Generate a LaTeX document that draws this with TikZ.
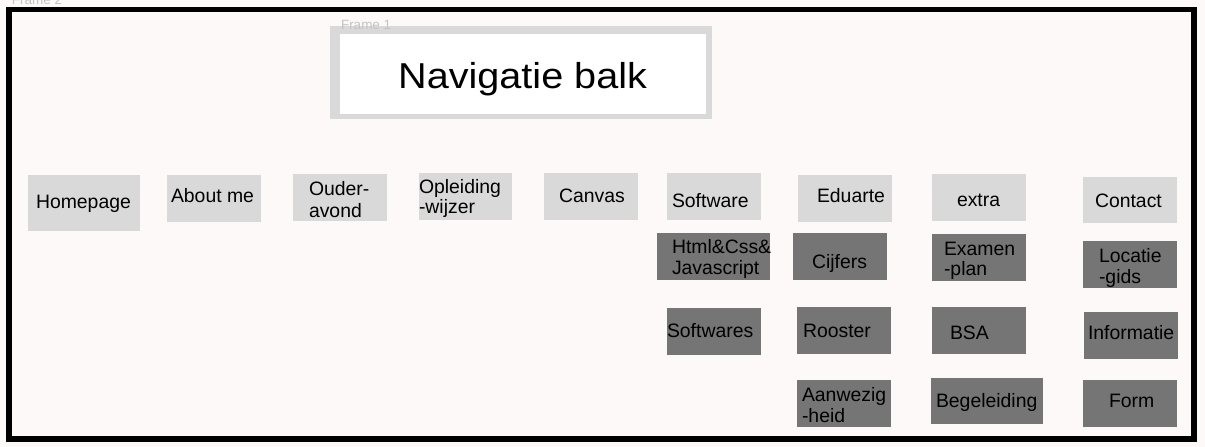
\documentclass[tikz,border=0pt]{standalone}
\usepackage{fontspec}
\setmainfont{Liberation Sans}
\definecolor{bgc}{HTML}{FDF9F8}
\definecolor{lightbox}{HTML}{D9D9D9}
\definecolor{darkbox}{HTML}{757575}
\definecolor{framelbl}{HTML}{C4C4C4}
\tikzset{
  lbox/.style={draw=none, fill=lightbox, inner sep=0pt, outer sep=0pt, minimum width=94pt, minimum height=47pt},
  dbox/.style={draw=none, fill=darkbox, inner sep=0pt, outer sep=0pt, minimum width=94pt, minimum height=47pt},
  txt/.style={inner sep=0pt, outer sep=0pt, anchor=base west, font=\fontsize{19.4}{21}\selectfont, text=black},
  flbl/.style={inner sep=0pt, outer sep=0pt, anchor=base west, font=\fontsize{13.5}{15}\selectfont, text=framelbl},
}
\begin{document}
\begin{tikzpicture}[x=1pt,y=-1pt]
\useasboundingbox (0,0) rectangle (1205,447);
\fill[bgc] (0,0) rectangle (1205,447);
% outer frame
\draw[black, line width=5.6pt] (9,9.6) rectangle (1194,439.2);
\node[flbl] (f2lbl) at (12,5) {Frame 2};
% frame 1 / navigation bar
\node[fill=lightbox, inner sep=0pt, outer sep=0pt, minimum width=382pt, minimum height=93pt] (navouter) at (521,72.5) {};
\node[fill=white, inner sep=0pt, outer sep=0pt, minimum width=366pt, minimum height=80pt] (navinner) at (523,74) {};
\node[flbl] (f1lbl) at (341,29) {Frame 1};
\node[inner sep=0pt, anchor=base west, font=\fontsize{36}{40}\selectfont, xscale=1.1] (navtxt) at (398,88) {Navigatie balk};
% top row
\node[lbox, minimum width=112pt, minimum height=56pt] (homepage) at (84,203) {};
\node[txt] (homepage-t) at (36,208) {Homepage};
\node[lbox] (aboutme) at (214,198.5) {};
\node[txt] (aboutme-t) at (171,202) {About me};
\node[lbox] (ouder) at (340,197.5) {};
\node[txt] (ouder-t1) at (309,195) {Ouder-};
\node[txt] (ouder-t2) at (309,217) {avond};
\node[lbox, minimum width=93pt] (opleiding) at (465.5,196.5) {};
\node[txt] (opleiding-t1) at (419,193) {Opleiding};
\node[txt] (opleiding-t2) at (419,213) {-wijzer};
\node[lbox] (canvas) at (591,196.5) {};
\node[txt] (canvas-t) at (559,202) {Canvas};
\node[lbox] (software) at (714,196.5) {};
\node[txt] (software-t) at (672,207) {Software};
\node[lbox] (eduarte) at (845,198.5) {};
\node[txt] (eduarte-t) at (817,202) {Eduarte};
\node[lbox] (extra) at (979,197.5) {};
\node[txt] (extra-t) at (957,206) {extra};
\node[lbox, minimum height=46pt] (contact) at (1130,200) {};
\node[txt] (contact-t) at (1095,207) {Contact};
% software column
\node[dbox, minimum width=113pt] (html) at (713.5,256.5) {};
\node[txt] (html-t1) at (672,253) {Html\&Css\&};
\node[txt] (html-t2) at (672,274) {Javascript};
\node[dbox] (softwares) at (714,331.5) {};
\node[txt] (softwares-t) at (667,337) {Softwares};
% eduarte column
\node[dbox] (cijfers) at (840,256.5) {};
\node[txt] (cijfers-t) at (812,268) {Cijfers};
\node[dbox] (rooster) at (844,330.5) {};
\node[txt] (rooster-t) at (803,337) {Rooster};
\node[dbox] (aanwezig) at (844,403.5) {};
\node[txt] (aanwezig-t1) at (802,401) {Aanwezig};
\node[txt] (aanwezig-t2) at (802,422) {-heid};
% extra column
\node[dbox] (examen) at (979,257.5) {};
\node[txt] (examen-t1) at (944,255) {Examen};
\node[txt] (examen-t2) at (944,275) {-plan};
\node[dbox] (bsa) at (979,330.5) {};
\node[txt] (bsa-t) at (950,339) {BSA};
\node[dbox, minimum width=112pt, minimum height=46pt] (begeleiding) at (987,401) {};
\node[txt] (begeleiding-t) at (936,407) {Begeleiding};
% contact column
\node[dbox] (locatie) at (1130,264.5) {};
\node[txt] (locatie-t1) at (1099,262) {Locatie};
\node[txt] (locatie-t2) at (1099,283) {-gids};
\node[dbox] (informatie) at (1131,335.5) {};
\node[txt] (informatie-t) at (1088,339) {Informatie};
\node[dbox] (form) at (1130,403.5) {};
\node[txt] (form-t) at (1109,407) {Form};
\end{tikzpicture}
\end{document}
